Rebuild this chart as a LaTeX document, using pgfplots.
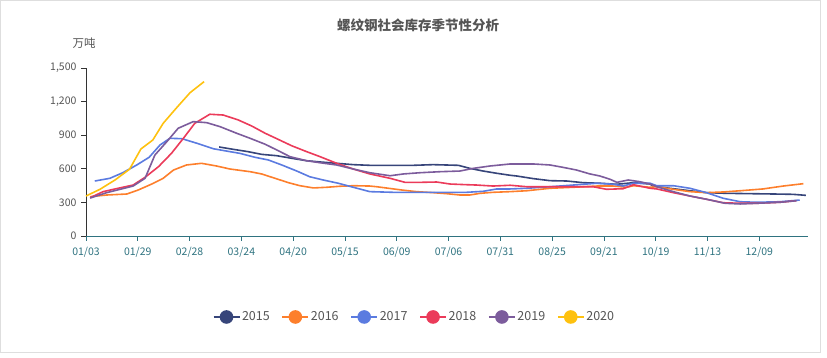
\documentclass[border=0pt]{standalone}
\usepackage{pgfplots}
\pgfplotsset{compat=1.18}
\usepackage{fontspec}
\setmainfont{Noto Sans CJK SC}
\definecolor{c2015}{HTML}{37457A}
\definecolor{c2016}{HTML}{FD7F2C}
\definecolor{c2017}{HTML}{5B7BE0}
\definecolor{c2018}{HTML}{EB3B5A}
\definecolor{c2019}{HTML}{7C5C9C}
\definecolor{c2020}{HTML}{FEC10F}
\definecolor{teal1}{HTML}{2F7380}
\definecolor{txt}{HTML}{555555}
\begin{document}
\begin{tikzpicture}[x=1pt,y=1pt]
\path (0,0) rectangle (827,358);
\draw[black!13,line width=0.8pt] (0.5,6) rectangle (820,357.5);
\node[font=\fontsize{13.5}{15}\selectfont\bfseries,text=txt] at (418,333) {螺纹钢社会库存季节性分析};
\node[font=\fontsize{11.5}{13}\selectfont,text=txt] at (84,315) {万吨};
\begin{axis}[
  at={(86pt,122pt)}, anchor=south west,
  scale only axis, width=722pt, height=168pt,
  xmin=0, xmax=13.94, ymin=0, ymax=1500,
  axis x line=bottom, axis y line=left,
  x axis line style={-, teal1, line width=0.9pt},
  y axis line style={-, black!80, line width=0.8pt},
  xtick={0,...,13},
  xticklabels={01/03,01/29,02/28,03/24,04/20,05/15,06/09,07/06,07/31,08/25,09/21,10/19,11/13,12/09},
  ytick={0,300,600,900,1200,1500},
  tick align=outside, major tick length=5pt,
  x tick style={teal1, line width=0.8pt},
  y tick style={black!80, line width=0.8pt},
  xticklabel style={font=\fontsize{10.5}{12}\selectfont, text=teal1, yshift=-3pt},
  yticklabel style={font=\fontsize{10.5}{12}\selectfont, text=txt, xshift=-1pt},
  /pgf/number format/assume math mode=true,
  /pgf/number format/1000 sep={,},
  legend columns=6,
  legend style={at={(0.455,-0.482)}, anchor=center, draw=none, fill=none,
    font=\fontsize{12.5}{14}\selectfont, text=txt,
    /tikz/every even column/.append style={column sep=10pt}},
  legend cell align=left,
  legend image code/.code={\draw[#1,line width=1.1pt] (0pt,0pt) -- (26pt,0pt); \fill[#1] (13pt,0pt) circle (6pt);},
  every axis plot/.append style={line width=1.6pt, line join=round, mark=none},
  clip=false,
]
% 2015
\addplot[color=c2015] coordinates {
(2.57,795)(2.84,774)(3.13,753)(3.39,729)(3.68,717)(3.97,694)(4.26,672)(4.52,661)(4.84,649)(5.16,637)(5.48,631)(5.93,631)(6.32,631)(6.70,637)(7.19,631)(7.41,604)(7.67,580)(7.93,560)(8.19,542)(8.31,536)(8.64,512)(8.96,494)(9.28,491)(9.60,476)(9.92,471)(10.25,462)(10.57,476)(10.89,464)(10.95,446)(11.27,426)(11.66,404)(11.98,387)(12.37,381)(12.82,378)(13.27,375)(13.65,372)(13.90,363)
};
\addlegendentry{2015}
% 2016
\addplot[color=c2016] coordinates {
(0.08,351)(0.40,366)(0.79,375)(1.01,411)(1.27,464)(1.49,515)(1.69,589)(1.94,634)(2.23,649)(2.52,625)(2.78,598)(3.17,574)(3.39,554)(3.65,515)(3.91,476)(4.13,449)(4.39,429)(4.65,435)(4.90,444)(5.16,449)(5.48,446)(5.61,440)(6.09,411)(6.38,396)(6.70,387)(6.96,378)(7.22,366)(7.41,366)(7.61,381)(7.86,390)(8.19,396)(8.51,404)(8.96,426)(9.41,435)(9.86,446)(10.18,446)(10.44,435)(10.57,449)(10.89,435)(11.02,440)(11.34,417)(11.66,396)(11.98,387)(12.30,393)(12.63,404)(13.07,420)(13.46,446)(13.85,467)
};
\addlegendentry{2016}
% 2017
\addplot[color=c2017] coordinates {
(0.17,491)(0.46,515)(0.71,565)(0.98,634)(1.22,703)(1.43,813)(1.62,872)(1.85,869)(2.14,828)(2.46,779)(2.78,753)(2.97,738)(3.26,703)(3.52,679)(3.78,634)(4.07,580)(4.32,529)(4.58,500)(4.87,471)(5.16,435)(5.48,396)(5.93,390)(6.45,390)(6.90,390)(7.35,390)(7.67,399)(7.93,420)(8.19,420)(8.51,426)(8.96,440)(9.41,455)(9.86,471)(10.18,462)(10.37,446)(10.57,471)(10.89,471)(11.02,449)(11.34,449)(11.66,426)(11.98,387)(12.30,337)(12.63,306)(12.95,301)(13.40,306)(13.78,321)
};
\addlegendentry{2017}
% 2018
\addplot[color=c2018] coordinates {
(0.08,342)(0.33,396)(0.62,426)(0.91,455)(1.14,524)(1.40,619)(1.65,738)(1.88,872)(2.10,1006)(2.39,1087)(2.65,1080)(2.94,1036)(3.20,982)(3.46,917)(3.71,863)(3.97,806)(4.26,753)(4.52,708)(4.84,649)(5.16,598)(5.48,554)(5.87,515)(6.16,479)(6.45,479)(6.77,482)(7.03,464)(7.35,458)(7.54,455)(7.86,446)(8.19,453)(8.51,440)(8.96,440)(9.41,440)(9.79,440)(10.05,417)(10.37,422)(10.57,458)(10.89,426)(11.02,420)(11.34,387)(11.66,357)(11.98,328)(12.30,297)(12.63,292)(12.95,292)(13.40,301)(13.71,315)
};
\addlegendentry{2018}
% 2019
\addplot[color=c2019] coordinates {
(0.08,339)(0.40,387)(0.66,417)(0.91,446)(1.14,515)(1.33,723)(1.56,842)(1.78,962)(2.07,1021)(2.33,1012)(2.59,976)(2.91,917)(3.17,872)(3.46,819)(3.71,762)(3.94,708)(4.26,672)(4.52,654)(4.84,634)(5.16,598)(5.48,565)(5.87,538)(6.13,554)(6.45,565)(6.83,574)(7.22,580)(7.48,604)(7.80,625)(8.19,643)(8.64,643)(8.96,634)(9.21,613)(9.47,589)(9.73,554)(9.92,536)(10.12,506)(10.25,479)(10.47,500)(10.69,485)(10.89,464)(11.02,440)(11.34,396)(11.66,357)(11.98,328)(12.34,292)(12.63,286)(12.95,292)(13.40,301)(13.72,315)
};
\addlegendentry{2019}
% 2020
\addplot[color=c2020] coordinates {
(0,357)(0.27,417)(0.56,500)(0.84,596)(1.06,777)(1.29,857)(1.49,1006)(1.74,1140)(2.01,1280)(2.28,1378)
};
\addlegendentry{2020}
\end{axis}
\end{tikzpicture}
\end{document}
